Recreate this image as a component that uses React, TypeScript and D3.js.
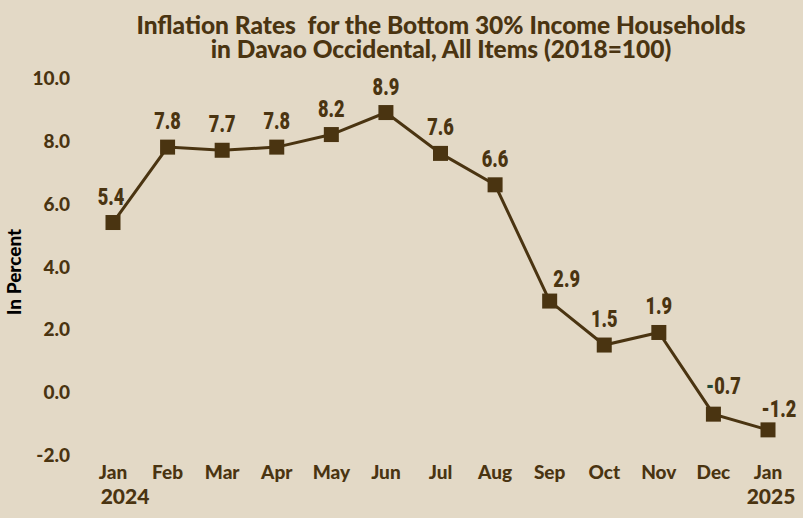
import React from "react";
import * as d3 from "d3";

const months = ["Jan", "Feb", "Mar", "Apr", "May", "Jun", "Jul", "Aug", "Sep", "Oct", "Nov", "Dec", "Jan"];
const years = ["2024", "", "", "", "", "", "", "", "", "", "", "", "2025"];
const rates = [5.4, 7.8, 7.7, 7.8, 8.2, 8.9, 7.6, 6.6, 2.9, 1.5, 1.9, -0.7, -1.2];
const yTicks = [-2, 0, 2, 4, 6, 8, 10];
const titleLines = ["Inflation Rates  for the Bottom 30% Income Households", "in Davao Occidental, All Items (2018=100)"];

const W = 803, H = 518;
const BG = "#E3D9C6";
const DARK = "#4A3411";

export default function App() {
  const x = d3.scalePoint<number>().domain(d3.range(months.length)).range([113, 768]);
  const y = d3.scaleLinear().domain([-2, 10]).range([455, 78]);
  const line = d3.line<number>().x((_, i) => x(i)!).y(d => y(d));
  const ms = 15;
  const dx = (i: number) => (i === 0 ? -2 : i === 8 ? 17 : i === 11 ? 10 : i === 12 ? 11 : 0);
  const dy = (i: number) => (i === 8 ? -14 : i === 12 ? -13 : i === 11 ? -20 : -18);
  return (
    <svg width={W} height={H} style={{ position: "absolute", left: 0, top: 0, background: BG }}>
      <rect width={W} height={H} fill={BG} />
      {titleLines.map((t, i) => (
        <text key={i} x={441} y={34 + i * 24} textAnchor="middle" fontFamily="Lato" fontWeight={900} fontSize={24.5} fill={DARK} style={{ whiteSpace: "pre" }} xmlSpace="preserve">{t}</text>
      ))}
      <text transform={`translate(21,272) rotate(-90)`} textAnchor="middle" fontFamily="Lato" fontWeight={900} fontSize={19} fill="#000">In Percent</text>
      {yTicks.map(t => (
        <text key={t} x={70} y={y(t) + 7} textAnchor="end" fontFamily="Lato" fontWeight={900} fontSize={19} fill={DARK}>{t.toFixed(1)}</text>
      ))}
      {months.map((m, i) => (
        <g key={i}>
          <text x={x(i)!} y={479} textAnchor="middle" fontFamily="Lato" fontWeight={900} fontSize={19} fill={DARK}>{m}</text>
          {years[i] && <text x={i === 0 ? x(i)! + 12 : x(i)! + 3} y={504} textAnchor="middle" fontFamily="Lato" fontWeight={900} fontSize={21} fill={DARK}>{years[i]}</text>}
        </g>
      ))}
      <path d={line(rates)!} fill="none" stroke={DARK} strokeWidth={3} />
      {rates.map((v, i) => (
        <rect key={i} x={x(i)! - ms / 2} y={y(v) - ms / 2} width={ms} height={ms} fill={DARK} />
      ))}
      {rates.map((v, i) => (
        <text key={i} transform={`translate(${x(i)! + dx(i)},${y(v) + dy(i)}) scale(0.76,1)`} textAnchor="middle" fontFamily="Roboto" fontWeight={900} fontSize={24} fill={DARK}>
          {v < 0 ? <><tspan fill={i === 11 ? "#1F4A3A" : DARK}>-</tspan>{Math.abs(v).toFixed(1)}</> : v.toFixed(1)}
        </text>
      ))}
    </svg>
  );
}
